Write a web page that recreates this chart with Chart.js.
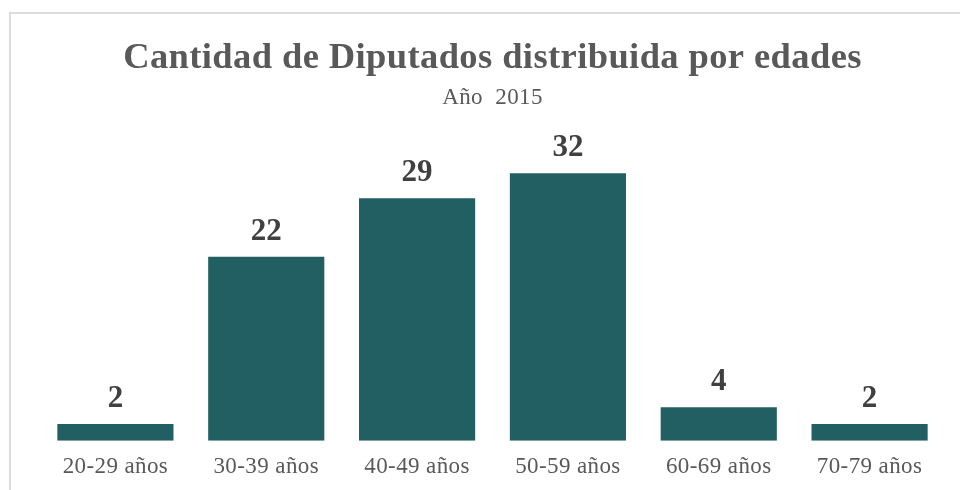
<!DOCTYPE html>
<html lang="es">
<head>
  <meta charset="UTF-8">
  <title>Cantidad de Diputados distribuida por edades</title>
  <script src="https://cdn.jsdelivr.net/npm/chart.js@4"></script>
  <style>
    html, body { margin: 0; padding: 0; background: #fff; overflow: hidden; }
    .frame {
      position: absolute; left: 9px; top: 12px;
      width: 1000px; height: 600px;
      border: 2px solid #dcdcdc;
    }
    .wrap { position: absolute; left: 0; top: 0; width: 960px; height: 490px; }
  </style>
</head>
<body>
  <div class="frame"></div>
  <div class="wrap"><canvas id="myChart" width="960" height="490"></canvas></div>

  <script>
    // datos
    const categorias = ["20-29 años", "30-39 años", "40-49 años", "50-59 años", "60-69 años", "70-79 años"];
    const diputados = [2, 22, 29, 32, 4, 2];
    const titulo = "Cantidad de Diputados distribuida por edades";
    const subtitulo = "Año  2015";

    const serif = '"Liberation Serif", "Times New Roman", serif';

    // el texto del original esta un poco estirado
    const espaciado = {
      id: 'espaciado',
      beforeDraw(chart) {
        chart.ctx.letterSpacing = '0.4px';
      }
    };

    // etiquetas encima de cada barra (sin plugin externo)
    const valoresArriba = {
      id: 'valoresArriba',
      afterDatasetsDraw(chart) {
        const ctx = chart.ctx;
        const meta = chart.getDatasetMeta(0);
        ctx.save();
        ctx.letterSpacing = '0px';
        ctx.font = 'bold 31px ' + serif;
        ctx.fillStyle = '#404040';
        ctx.textAlign = 'center';
        ctx.textBaseline = 'alphabetic';
        meta.data.forEach((bar, i) => {
          ctx.fillText(chart.data.datasets[0].data[i], bar.x, bar.y - 17);
        });
        ctx.restore();
      }
    };

    const ctx = document.getElementById('myChart').getContext('2d');
    new Chart(ctx, {
      type: 'bar',
      data: {
        labels: categorias,
        datasets: [{
          data: diputados,
          backgroundColor: '#215f63',
          barPercentage: 0.77,
          categoryPercentage: 1.0
        }]
      },
      options: {
        responsive: false,
        animation: false,
        layout: { padding: { left: 40, right: 15, top: 0, bottom: 0 } },
        scales: {
          x: {
            grid: { display: false, drawTicks: false },
            border: { display: false },
            afterFit(scale) { scale.height = 49.3; },
            ticks: {
              color: '#595959',
              padding: 12,
              font: { family: serif, size: 23 }
            }
          },
          y: {
            display: false,
            min: 0,
            max: 38
          }
        },
        plugins: {
          legend: { display: false },
          tooltip: { enabled: false },
          title: {
            display: true,
            text: titulo,
            color: '#595959',
            font: { family: serif, size: 36.5, weight: 'bold' },
            padding: { top: 36.7, bottom: 0 }
          },
          subtitle: {
            display: true,
            text: subtitulo,
            color: '#595959',
            font: { family: serif, size: 23 },
            padding: { top: 4, bottom: 10.9 }
          }
        }
      },
      plugins: [espaciado, valoresArriba]
    });
  </script>
</body>
</html>
